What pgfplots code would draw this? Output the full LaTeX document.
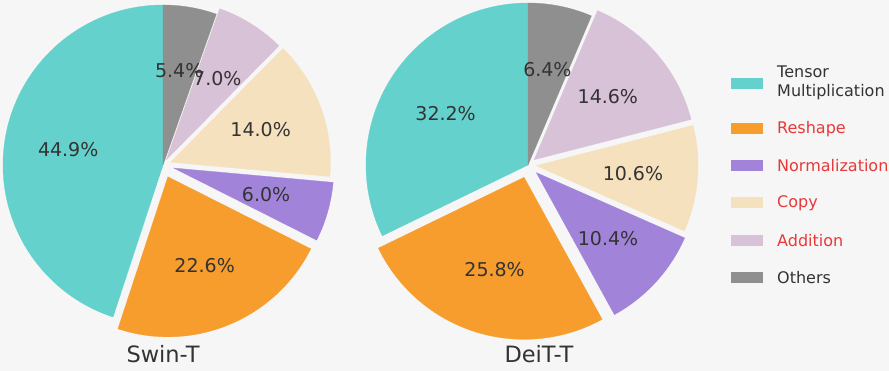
\documentclass[border=0pt]{standalone}
\usepackage{pgfplots}
\pgfplotsset{compat=1.18}
\usepackage{pgfplotstable}
\usepackage{fontspec}
\setmainfont{DejaVu Sans}

\definecolor{bg}{RGB}{246,246,246}
\definecolor{pc0}{RGB}{100,209,204}
\definecolor{pc1}{RGB}{246,157,45}
\definecolor{pc2}{RGB}{161,132,218}
\definecolor{pc3}{RGB}{246,225,191}
\definecolor{pc4}{RGB}{216,194,216}
\definecolor{pc5}{RGB}{143,143,143}
\definecolor{txt}{RGB}{51,51,51}
\definecolor{lred}{RGB}{232,56,58}

% slices in order (counter-clockwise from the top):
% Tensor Multiplication, Reshape, Normalization, Copy, Addition, Others
\pgfplotstableread{
value explode
44.9 0.00
22.6 0.08
6.0 0.07
14.0 0.05
7.0 0.04
5.4 0.00
}\swintab
\pgfplotstableread{
value explode
32.2 0.00
25.8 0.08
10.4 0.07
10.6 0.05
14.6 0.05
6.4 0.00
}\deittab

% #1 table, #2 cx, #3 cy, #4 radius
\newcommand{\drawpie}[4]{%
  \def\total{0}%
  \pgfplotsforeachungrouped \i in {0,...,5}{%
    \pgfplotstablegetelem{\i}{value}\of{#1}%
    \pgfmathsetmacro\total{\total+\pgfplotsretval}}%
  \def\startang{90}%
  \pgfplotsforeachungrouped \i in {0,...,5}{%
    \pgfplotstablegetelem{\i}{value}\of{#1}\let\val\pgfplotsretval
    \pgfplotstablegetelem{\i}{explode}\of{#1}\let\ex\pgfplotsretval
    \pgfmathsetmacro\endang{\startang+360*\val/\total}%
    \pgfmathsetmacro\midang{(\startang+\endang)/2}%
    \pgfmathsetmacro\ox{#2+\ex*#4*cos(\midang)}%
    \pgfmathsetmacro\oy{#3+\ex*#4*sin(\midang)}%
    \edef\temp{\noexpand\fill[pc\i, draw=pc\i, line width=0.3pt] (axis cs:\ox,\oy) -- ++(\startang:#4pt) arc[start angle=\startang, end angle=\endang, radius=#4pt] -- cycle;}%
    \temp
    \let\startang\endang
  }%
  \def\startang{90}%
  \pgfplotsforeachungrouped \i in {0,...,5}{%
    \pgfplotstablegetelem{\i}{value}\of{#1}\let\val\pgfplotsretval
    \pgfplotstablegetelem{\i}{explode}\of{#1}\let\ex\pgfplotsretval
    \pgfmathsetmacro\endang{\startang+360*\val/\total}%
    \pgfmathsetmacro\midang{(\startang+\endang)/2}%
    \pgfmathsetmacro\lx{#2+(\ex+0.6)*#4*cos(\midang)}%
    \pgfmathsetmacro\ly{#3+(\ex+0.6)*#4*sin(\midang)}%
    \edef\temp{\noexpand\node[text=txt, inner sep=0pt, font=\noexpand\fontsize{19}{23}\noexpand\selectfont] at (axis cs:\lx,\ly) {\val\noexpand\%};}%
    \temp
    \let\startang\endang
  }%
}

\begin{document}
\begin{tikzpicture}
\begin{axis}[
  scale only axis, width=889pt, height=371pt,
  xmin=0, xmax=889, ymin=0, ymax=371,
  hide axis, clip=false,
]
\fill[bg] (axis cs:0,0) rectangle (axis cs:889,371);
\drawpie{\swintab}{163}{206}{160}
\drawpie{\deittab}{528}{206}{162}

\node[text=txt, anchor=base, font=\fontsize{22.5}{27}\selectfont] at (axis cs:163,8) {Swin-T};
\node[text=txt, anchor=base, font=\fontsize{22.5}{27}\selectfont] at (axis cs:539,8) {DeiT-T};

% legend
\fill[pc0] (axis cs:731,282) rectangle (axis cs:763,293);
\fill[pc1] (axis cs:731,237) rectangle (axis cs:763,248);
\fill[pc2] (axis cs:731,200) rectangle (axis cs:763,211);
\fill[pc3] (axis cs:731,163) rectangle (axis cs:763,174);
\fill[pc4] (axis cs:731,125) rectangle (axis cs:763,136);
\fill[pc5] (axis cs:731,88) rectangle (axis cs:763,99);
\begin{scope}[every node/.style={anchor=west, inner sep=0pt, font=\fontsize{16}{19}\selectfont}]
\node[text=txt, align=left] at (axis cs:777,288) {Tensor\\Multiplication};
\node[text=lred] at (axis cs:777,242) {Reshape};
\node[text=lred] at (axis cs:777,205) {Normalization};
\node[text=lred] at (axis cs:777,168) {Copy};
\node[text=lred] at (axis cs:777,130) {Addition};
\node[text=txt] at (axis cs:777,93) {Others};
\end{scope}
\end{axis}
\pgfresetboundingbox
\path[use as bounding box] (current axis.south west) rectangle (current axis.north east);
\end{tikzpicture}
\end{document}
